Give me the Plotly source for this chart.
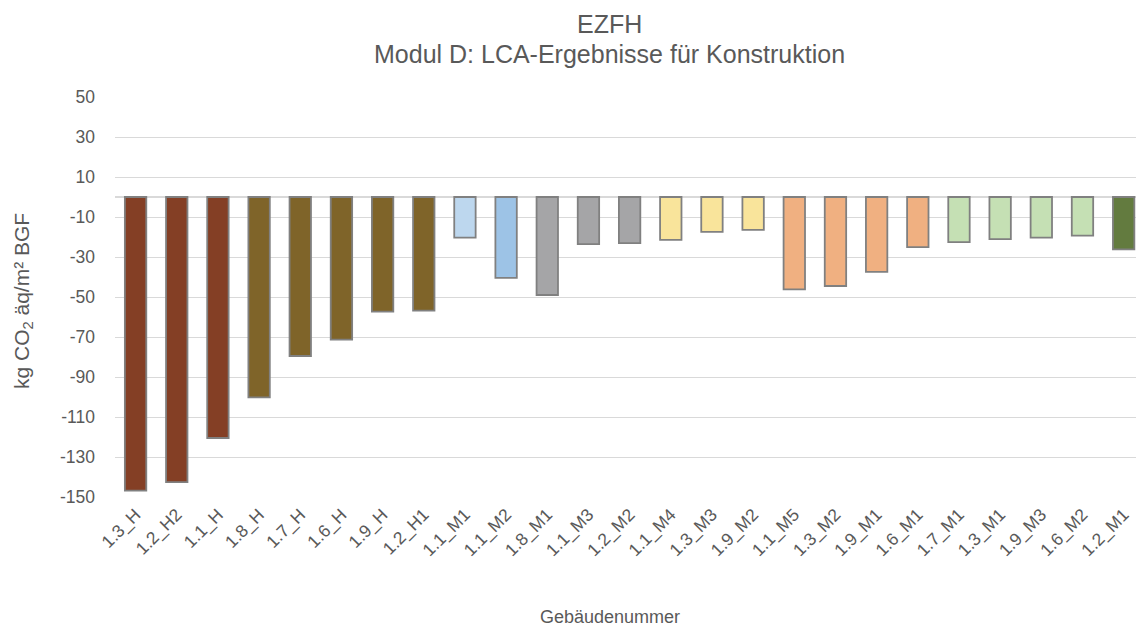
import plotly.graph_objects as go

categories = ["1.3_H", "1.2_H2", "1.1_H", "1.8_H", "1.7_H", "1.6_H", "1.9_H", "1.2_H1",
              "1.1_M1", "1.1_M2", "1.8_M1", "1.1_M3", "1.2_M2", "1.1_M4", "1.3_M3", "1.9_M2",
              "1.1_M5", "1.3_M2", "1.9_M1", "1.6_M1", "1.7_M1", "1.3_M1", "1.9_M3", "1.6_M2", "1.2_M1"]
values = [-146.8, -142.6, -120.5, -100.2, -79.5, -71.3, -57.3, -56.8,
          -20.3, -40.4, -49.0, -23.6, -23.1, -21.4, -17.4, -16.4,
          -46.2, -44.5, -37.4, -25.1, -22.6, -21.1, -20.3, -19.3, -26.2]
groups = ["brown"] * 3 + ["olive"] * 5 + ["lightblue", "blue"] + ["gray"] * 3 + ["yellow"] * 3 + \
         ["orange"] * 4 + ["green"] * 4 + ["darkgreen"]
y_ticks = [-150, -130, -110, -90, -70, -50, -30, -10, 10, 30, 50]
y_tick_labels = ["-150", "-130", "-110", "-90", "-70", "-50", "-30", "-10", "10", "30", "50"]

palette = {
    "brown": "#843F25", "olive": "#7F6429", "lightblue": "#BDD7EE", "blue": "#9DC3E6",
    "gray": "#A5A5A7", "yellow": "#F9E49B", "orange": "#F0B081", "green": "#C5E0B4",
    "darkgreen": "#637B3F",
}
colors = [palette[g] for g in groups]

TXT = "#595959"
FONT = "Liberation Sans, Arial, sans-serif"

fig = go.Figure(go.Bar(
    x=categories, y=values, width=0.52,
    marker=dict(color=colors, line=dict(color="#808080", width=1.8)),
))

fig.update_layout(
    width=1128, height=621,
    margin=dict(l=107, r=0, t=88.5, b=131.5),
    paper_bgcolor="white", plot_bgcolor="white",
    font=dict(family=FONT, color=TXT, size=17),
    showlegend=False,
    bargap=0.48,
)
fig.update_xaxes(
    range=[-0.5, 24.3], tickangle=-45, tickfont=dict(size=17.5, color=TXT),
    showgrid=False, showline=False, zeroline=False, ticks="", ticklabelstandoff=3,
)
fig.update_yaxes(
    range=[-150, 50], tickvals=y_ticks, ticktext=y_tick_labels, tickfont=dict(size=17.5, color=TXT),
    showgrid=True, gridcolor="#D9D9D9", gridwidth=1.3,
    zeroline=True, zerolinecolor="#D9D9D9", zerolinewidth=1.5,
    showline=False, ticks="", ticklabelstandoff=19,
)

fig.add_annotation(text="EZFH", xref="paper", yref="paper", x=0.4848, y=1.1833,
                   xanchor="center", yanchor="middle", showarrow=False,
                   font=dict(size=25, color=TXT, family=FONT))
fig.add_annotation(text="Modul D: LCA-Ergebnisse für Konstruktion", xref="paper", yref="paper",
                   x=0.4848, y=1.1085, xanchor="center", yanchor="middle", showarrow=False,
                   font=dict(size=25, color=TXT, family=FONT))
fig.add_annotation(text="kg CO<sub>2</sub> äq/m² BGF", xref="paper", yref="paper",
                   x=-0.0901, y=0.49, xanchor="center", yanchor="middle", textangle=-90,
                   showarrow=False, font=dict(size=21, color=TXT, family=FONT))
fig.add_annotation(text="Gebäudenummer", xref="paper", yref="paper", x=0.4848, y=-0.3005,
                   xanchor="center", yanchor="middle", showarrow=False,
                   font=dict(size=18, color=TXT, family=FONT))

fig.write_html("out.html")
